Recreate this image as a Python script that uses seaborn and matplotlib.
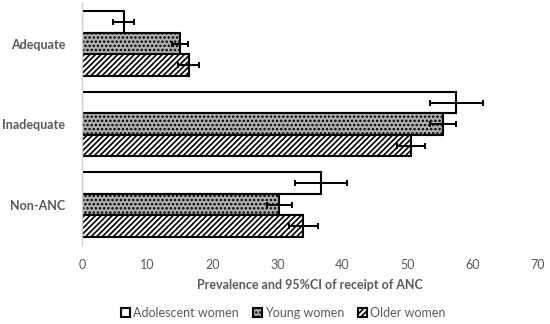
import matplotlib
matplotlib.use("Agg")
import matplotlib.pyplot as plt
import numpy as np
import pandas as pd
import seaborn as sns
from matplotlib.patches import Patch

categories = ["Adequate", "Inadequate", "Non-ANC"]
groups = ["Adolescent women", "Young women", "Older women"]
adolescent = [6.4, 57.5, 36.7]
young = [15.0, 55.4, 30.3]
older = [16.4, 50.5, 34.0]
adolescent_ci = [1.65, 4.0, 4.0]
young_ci = [1.25, 2.0, 1.9]
older_ci = [1.6, 2.1, 2.2]

TEXT = "#595959"
GRAY = "#b0b0b0"

df = pd.DataFrame({
    "category": categories * 3,
    "group": np.repeat(groups, 3),
    "value": adolescent + young + older,
    "ci": adolescent_ci + young_ci + older_ci,
})

sns.set_style("white")
plt.rcParams["font.family"] = ["Lato", "DejaVu Sans"]
plt.rcParams["hatch.linewidth"] = 1.2

fig = plt.figure(figsize=(5.5, 3.24), dpi=100)
ax = fig.add_axes([0.149, 0.244, 0.829, 0.746])

sns.barplot(
    data=df, y="category", x="value", hue="group", orient="h",
    order=categories, hue_order=groups, errorbar=None,
    palette=["white", GRAY, "white"], edgecolor="black",
    linewidth=1.5, width=0.8, ax=ax, legend=False,
)

hatches = ["", "....", "//////"]
for cont, hatch, g in zip(ax.containers, hatches, groups):
    ci = df[df["group"] == g]["ci"].values
    for bar, err in zip(cont, ci):
        bar.set_hatch(hatch)
        yc = bar.get_y() + bar.get_height() / 2
        ax.errorbar(bar.get_width(), yc, xerr=err, color="black",
                    capsize=2.5, elinewidth=1.4, capthick=1.4, fmt="none")

ax.set_xlim(0, 70)
ax.set_ylim(2.5, -0.5)
ax.set_xticks(range(0, 71, 10))
ax.tick_params(axis="x", length=0, labelsize=9, labelcolor=TEXT, pad=10)
ax.tick_params(axis="y", length=0, labelsize=9, labelcolor=TEXT, pad=12)
for lab in ax.get_yticklabels():
    lab.set_fontweight("bold")
ax.set_ylabel("")
ax.set_xlabel("Prevalence and 95%CI of receipt of ANC", fontsize=9,
              fontweight="bold", color=TEXT, labelpad=6)

for s in ["top", "right", "bottom"]:
    ax.spines[s].set_visible(False)
ax.spines["left"].set_color("#d0d0d0")
ax.spines["left"].set_linewidth(1)

handles = [
    Patch(facecolor="white", edgecolor="black", linewidth=1.5, label=groups[0]),
    Patch(facecolor=GRAY, edgecolor="black", linewidth=1.5, hatch="....", label=groups[1]),
    Patch(facecolor="white", edgecolor="black", linewidth=1.5, hatch="//////", label=groups[2]),
]
fig.legend(handles=handles, loc="center", bbox_to_anchor=(0.515, 0.035), ncol=3,
           frameon=False, fontsize=9, labelcolor=TEXT, handlelength=0.7,
           handleheight=0.7, handletextpad=0.25, columnspacing=1.1)

fig.savefig("out.png", dpi=100)
